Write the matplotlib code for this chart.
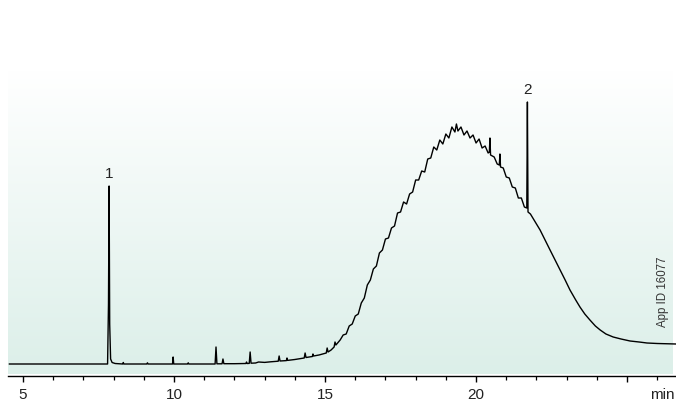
import numpy as np
import matplotlib.pyplot as plt
from matplotlib.colors import LinearSegmentedColormap

plt.rcParams['font.family'] = ['Liberation Sans', 'DejaVu Sans']

# chromatogram trace: retention time (min) and detector signal (a.u.)
time_min = [
    4.55, 7.80, 7.83, 7.85, 7.87, 7.90, 7.95, 8.05, 8.30, 8.32, 8.34,
    9.10, 9.12, 9.14, 9.95, 9.97, 9.99, 10.45, 10.47, 10.49,
    11.36, 11.39, 11.42, 11.59, 11.62, 11.65, 12.0, 12.38, 12.40, 12.42,
    12.49, 12.52, 12.55, 12.7, 12.8, 13.0, 13.2, 13.45, 13.48, 13.51,
    13.72, 13.74, 13.76, 14.0, 14.31, 14.34, 14.37, 14.58, 14.60, 14.62,
    14.8, 15.04, 15.07, 15.10, 15.2, 15.30, 15.33, 15.36,
    15.5, 15.6, 15.7, 15.8, 15.9, 16.0, 16.1, 16.2, 16.3, 16.4,
    16.5, 16.6, 16.7, 16.8, 16.9, 17.0, 17.1, 17.2, 17.3, 17.4,
    17.5, 17.6, 17.7, 17.8, 17.9, 18.0, 18.1, 18.2, 18.3, 18.4,
    18.5, 18.6, 18.7, 18.8, 18.9, 19.0, 19.1, 19.2, 19.3, 19.35,
    19.4, 19.5, 19.6, 19.7, 19.8, 19.9, 20.0, 20.1, 20.2, 20.3,
    20.4, 20.44, 20.46, 20.48, 20.6, 20.7, 20.77, 20.79, 20.81, 20.9,
    21.0, 21.1, 21.2, 21.3, 21.4, 21.5, 21.6, 21.68, 21.70, 21.72,
    21.8, 21.9, 22.0, 22.12, 22.3, 22.45, 22.6, 22.78, 22.95, 23.11,
    23.3, 23.44, 23.6, 23.77, 23.95, 24.11, 24.3, 24.54, 24.8, 25.10,
    25.4, 25.66, 26.0, 26.62,
]
signal = [
    0, 0, 60, 178, 40, 5, 1.5, 0.5, 0, 1.5, 0,
    0, 1.2, 0, 0, 7, 0, 0, 1.2, 0,
    0, 17, 0.2, 0.2, 5, 0.3, 0.3, 0.5, 2, 0.5,
    0.6, 12, 0.8, 1.0, 2, 1.6, 2.2, 2.8, 8, 3.0,
    3.4, 6, 3.6, 4.5, 6.0, 11, 6.5, 7.5, 10, 8,
    9, 11, 16, 12, 14, 17, 22, 19,
    24, 29, 30, 38, 40, 48, 50, 61, 66, 79,
    84, 95, 98, 111, 114, 125, 126, 136, 138, 151,
    152, 162, 160, 170, 172, 184, 184, 193, 192, 205,
    206, 217, 214, 224, 220, 230, 226, 237, 232, 240,
    233, 237, 229, 233, 226, 229, 221, 225, 216, 218,
    211, 212, 226, 209, 207, 200, 199, 210, 197, 196,
    187, 186, 177, 176, 166, 166, 157, 156, 262, 152,
    150, 145, 140, 134, 123, 114, 105, 94, 84, 74,
    64, 57, 50, 44, 38, 34, 30, 27, 25, 23,
    22, 21, 20.5, 20,
]

peak_ids = ['1', '2']
peak_time = [7.85, 21.70]
peak_label_y = [190, 274]

major_ticks = [5, 10, 15, 20, 25]
major_labels = ['5', '10', '15', '20', '']
minor_ticks = list(range(5, 27))

fig = plt.figure(figsize=(6.76, 4.01), dpi=100)
ax = fig.add_axes([0, 25 / 401, 1, 376 / 401])
ax.set_xlim(4.238, 26.62)
ax.set_ylim(-12, 364)

# pale mint gradient behind the trace
grad = np.linspace(0, 1, 256).reshape(-1, 1)
cmap = LinearSegmentedColormap.from_list('mint', ['#dcefe9', '#ffffff'])
ax.imshow(grad, cmap=cmap, origin='lower', aspect='auto',
          extent=(4.50, 26.49, -10, 294), zorder=0)

ax.plot(time_min, signal, color='black', lw=1.0, zorder=2)

for pid, t, y in zip(peak_ids, peak_time, peak_label_y):
    ax.text(t, y, pid, ha='center', va='center', fontsize=11, color='#222222')

ax.text(26.19, 72, 'App ID 16077', rotation=90, ha='center', va='center',
        fontsize=8.3, color='#333333')

# axis unit sits right of the last tick, in line with the tick labels
ax.annotate('min', xy=(26.15, 0), xycoords=('data', 'axes fraction'),
            xytext=(0, -8.5), textcoords='offset points',
            ha='center', va='top', fontsize=11, color='#222222')

for s in ['top', 'left', 'right']:
    ax.spines[s].set_visible(False)
ax.spines['bottom'].set_bounds(4.50, 26.62)
ax.spines['bottom'].set_linewidth(1.0)
ax.set_yticks([])
ax.set_xticks(major_ticks)
ax.set_xticklabels(major_labels)
ax.set_xticks(minor_ticks, minor=True)
ax.tick_params(axis='x', which='major', direction='out', length=4.5, width=1.0,
               pad=4, labelsize=11, labelcolor='#222222')
ax.tick_params(axis='x', which='minor', direction='out', length=3, width=0.9)
ax.set_facecolor('white')

fig.savefig('out.png', dpi=100)
